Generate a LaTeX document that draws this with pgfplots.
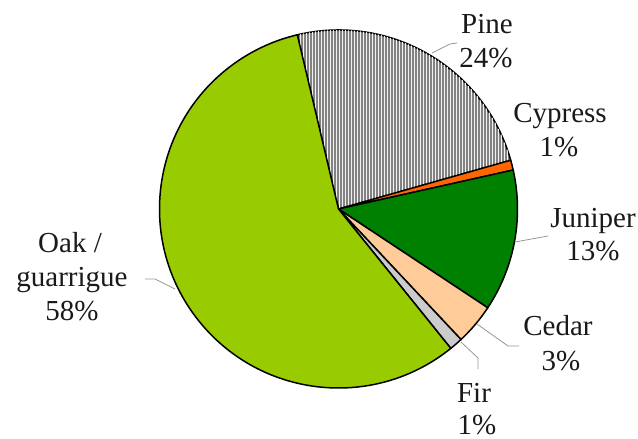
\documentclass[border=0pt]{standalone}
\usepackage{pgfplots}
\pgfplotsset{compat=1.18}
\usepackage{pgfplotstable}
\usetikzlibrary{patterns}
\usepackage{fontspec}
\setmainfont{Liberation Serif}

\definecolor{oakc}{RGB}{153,204,0}
\definecolor{junc}{RGB}{0,128,0}
\definecolor{cypc}{RGB}{255,102,0}
\definecolor{cedc}{RGB}{255,204,153}
\definecolor{firc}{RGB}{204,204,204}
\definecolor{leader}{RGB}{150,150,150}
\definecolor{pinec}{RGB}{130,130,130}

\tikzset{
  pine/.style={fill=pinec, postaction={pattern=vertical lines, pattern color=white!90!gray}},
  cypress/.style={fill=cypc},
  juniper/.style={fill=junc},
  cedar/.style={fill=cedc},
  fir/.style={fill=firc},
  oak/.style={fill=oakc},
  lbl/.style={anchor=base, inner sep=0pt, font=\fontsize{29}{34}\selectfont, text=black!90},
}

\begin{document}
\begin{tikzpicture}
\begin{axis}[
    x=1pt, y=1pt,
    xmin=0, xmax=638, ymin=0, ymax=439,
    y dir=reverse,
    hide axis, clip=false,
]
\path (axis cs:0,0) (axis cs:638,439);
% shares in %, clockwise from the Oak/Pine edge at 103.3 deg
\pgfplotsextra{
  \foreach \v/\s [remember=\e as \st (initially 103.3),
                  evaluate=\v as \e using \st-3.6*\v] in
    {24.3/pine, 0.9/cypress, 12.8/juniper, 3.7/cedar, 1.2/fir, 57.1/oak} {
    \draw[\s, line width=1.5pt, line join=round]
      (axis cs:338.5,209) -- ++(\st:179pt)
      arc[start angle=\st, end angle=\e, radius=179pt] -- cycle;
  }
}
% leader lines
\draw[leader, line width=0.8pt] (axis cs:432,53) -- (axis cs:450,44) -- (axis cs:457,43);
\draw[leader, line width=0.8pt] (axis cs:515,242) -- (axis cs:548,236);
\draw[leader, line width=0.8pt] (axis cs:477,324) -- (axis cs:508,346) -- (axis cs:519,346);
\draw[leader, line width=0.8pt] (axis cs:461,342) -- (axis cs:478,358) -- (axis cs:478,369);
\draw[leader, line width=0.8pt] (axis cs:145,279) -- (axis cs:155,279) -- (axis cs:175,289);
% labels
\node[lbl] at (axis cs:487,33) {Pine};
\node[lbl] at (axis cs:486,67) {24\%};
\node[lbl] at (axis cs:560,122) {Cypress};
\node[lbl] at (axis cs:559,156) {1\%};
\node[lbl] at (axis cs:593,227) {Juniper};
\node[lbl] at (axis cs:593,260) {13\%};
\node[lbl] at (axis cs:558,335) {Cedar};
\node[lbl] at (axis cs:561,370) {3\%};
\node[lbl] at (axis cs:474,402) {Fir};
\node[lbl] at (axis cs:477,434) {1\%};
\node[lbl] at (axis cs:70,252) {Oak /};
\node[lbl] at (axis cs:72,286) {guarrigue};
\node[lbl] at (axis cs:72,320) {58\%};
\end{axis}
\pgfresetboundingbox
\useasboundingbox (current axis.south west) rectangle (current axis.north east);
\end{tikzpicture}
\end{document}
